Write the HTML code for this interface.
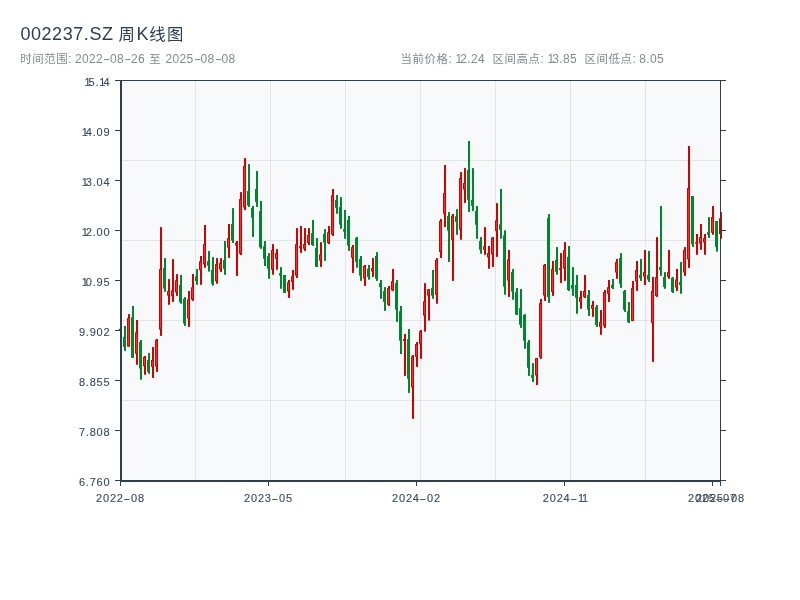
<!DOCTYPE html>
<html lang="zh-CN">
<head>
<meta charset="utf-8">
<title>002237.SZ 周K线图</title>
<style>
html,body{margin:0;padding:0;background:#fff;}
body{position:relative;width:800px;height:600px;overflow:hidden;font-family:"Liberation Sans","Noto Sans CJK SC",sans-serif;}
svg{display:block;position:absolute;left:0;top:0;}
div{position:absolute;white-space:pre;margin:0;padding:0;}
i{font-style:normal;margin:0 -2.2px 0 0.2px;}
b{font-weight:normal;display:inline-block;width:7px;text-align:center;transform:scaleX(1.8);letter-spacing:0;}
.tk{font-size:11px;line-height:16px;color:#3c4a5c;letter-spacing:0.8px;-webkit-text-stroke:0.12px #3c4a5c;}
.tk i{margin:0 -2.8px 0 0;}
.tk b{width:7.4px;position:relative;left:-1px;}
.yl{right:689.6px;text-align:right;}
.xl{width:80px;text-align:center;top:490.4px;}
.ttl{left:20.4px;top:22px;font-size:18px;line-height:24px;color:#2c3e50;}
.tl{letter-spacing:0.56px;}
.tc{font-size:16.4px;letter-spacing:1.6px;}
.tk2{letter-spacing:0.6px;}
.sub{font-size:12px;line-height:16px;color:#7f8c8d;top:51px;}
.sub .c{font-size:11.4px;letter-spacing:0.6px;}
.sub .n{letter-spacing:0.33px;}
.sub .z{margin:0 1.1px 0 0.8px;}
.s0{left:20.3px;}
.s1{left:400.6px;}
.s2{left:492.6px;}
.s3{left:584.6px;}
</style>
</head>
<body>
<svg width="800" height="600" viewBox="0 0 800 600">
<rect x="121" y="81" width="599" height="399" fill="#f8f9fb"/>
<g fill="#e1e4e9"><rect x="195" y="81" width="1" height="399"/><rect x="270" y="81" width="1" height="399"/><rect x="345" y="81" width="1" height="399"/><rect x="420" y="81" width="1" height="399"/><rect x="495" y="81" width="1" height="399"/><rect x="570" y="81" width="1" height="399"/><rect x="645" y="81" width="1" height="399"/><rect x="122" y="160" width="598" height="1"/><rect x="122" y="240" width="598" height="1"/><rect x="122" y="320" width="598" height="1"/><rect x="122" y="400" width="598" height="1"/></g>
<g><rect x="120" y="328.8" width="2" height="1.2" fill="#d40000"/><rect x="119" y="328.8" width="3" height="1.2" fill="#d40000"/><rect x="124" y="326" width="2" height="24.9" fill="#00872d"/><rect x="123" y="336.9" width="3" height="10" fill="#00872d"/><rect x="128" y="314.1" width="2" height="32.5" fill="#d40000"/><rect x="127" y="318.1" width="3" height="28.5" fill="#d40000"/><rect x="128" y="319.1" width="1" height="26.5" fill="#ff2a2a"/><rect x="132" y="306" width="2" height="51.75" fill="#00872d"/><rect x="131" y="317.25" width="3" height="40.5" fill="#00872d"/><rect x="136" y="320" width="2" height="44.75" fill="#d40000"/><rect x="135" y="332.25" width="3" height="21.5" fill="#d40000"/><rect x="136" y="333.25" width="1" height="19.5" fill="#ff2a2a"/><rect x="140" y="340" width="2" height="39.75" fill="#00872d"/><rect x="139" y="341.9" width="3" height="26.6" fill="#00872d"/><rect x="144" y="356" width="2" height="18.75" fill="#d40000"/><rect x="143" y="356.9" width="3" height="9.35" fill="#d40000"/><rect x="144" y="357.9" width="1" height="7.35" fill="#ff2a2a"/><rect x="148" y="352.9" width="2" height="20.85" fill="#00872d"/><rect x="147" y="360" width="3" height="11.9" fill="#00872d"/><rect x="152" y="347" width="2" height="30.9" fill="#d40000"/><rect x="151" y="360" width="3" height="6.9" fill="#d40000"/><rect x="152" y="361" width="1" height="4.9" fill="#ff2a2a"/><rect x="156" y="339" width="2" height="32.9" fill="#d40000"/><rect x="155" y="339.75" width="3" height="26.75" fill="#d40000"/><rect x="156" y="340.75" width="1" height="24.75" fill="#ff2a2a"/><rect x="160" y="227.1" width="2" height="108.8" fill="#d40000"/><rect x="159" y="269.1" width="3" height="60.5" fill="#d40000"/><rect x="160" y="270.1" width="1" height="58.5" fill="#ff2a2a"/><rect x="164" y="258.1" width="2" height="33.7" fill="#00872d"/><rect x="163" y="268.1" width="3" height="20.5" fill="#00872d"/><rect x="168" y="279.1" width="2" height="25.65" fill="#d40000"/><rect x="167" y="291.1" width="3" height="4.5" fill="#d40000"/><rect x="168" y="292.1" width="1" height="2.5" fill="#ff2a2a"/><rect x="172" y="259.1" width="2" height="42.8" fill="#d40000"/><rect x="171" y="290.3" width="3" height="5.95" fill="#d40000"/><rect x="172" y="291.3" width="1" height="3.95" fill="#ff2a2a"/><rect x="176" y="274.1" width="2" height="21.8" fill="#d40000"/><rect x="175" y="280.25" width="3" height="12.25" fill="#d40000"/><rect x="176" y="281.25" width="1" height="10.25" fill="#ff2a2a"/><rect x="180" y="275" width="2" height="28.75" fill="#00872d"/><rect x="179" y="285" width="3" height="16.9" fill="#00872d"/><rect x="184" y="297.1" width="2" height="28.8" fill="#00872d"/><rect x="183" y="298.75" width="3" height="24.75" fill="#00872d"/><rect x="188" y="291" width="2" height="35.9" fill="#d40000"/><rect x="187" y="299.4" width="3" height="19.1" fill="#d40000"/><rect x="188" y="300.4" width="1" height="17.1" fill="#ff2a2a"/><rect x="192" y="274" width="2" height="26.9" fill="#d40000"/><rect x="191" y="287.25" width="3" height="12.5" fill="#d40000"/><rect x="192" y="288.25" width="1" height="10.5" fill="#ff2a2a"/><rect x="196" y="269.1" width="2" height="15.65" fill="#00872d"/><rect x="195" y="276.25" width="3" height="4.75" fill="#00872d"/><rect x="200" y="256" width="2" height="28.75" fill="#d40000"/><rect x="199" y="261.25" width="3" height="9" fill="#d40000"/><rect x="200" y="262.25" width="1" height="7" fill="#ff2a2a"/><rect x="204" y="225" width="2" height="42.75" fill="#d40000"/><rect x="203" y="244.1" width="3" height="20.3" fill="#d40000"/><rect x="204" y="245.1" width="1" height="18.3" fill="#ff2a2a"/><rect x="208" y="251" width="2" height="20.6" fill="#00872d"/><rect x="207" y="261.25" width="3" height="4.35" fill="#00872d"/><rect x="212" y="257.1" width="2" height="28.5" fill="#00872d"/><rect x="211" y="270" width="3" height="13.75" fill="#00872d"/><rect x="216" y="258.1" width="2" height="25.65" fill="#d40000"/><rect x="215" y="264.1" width="3" height="17.15" fill="#d40000"/><rect x="216" y="265.1" width="1" height="15.15" fill="#ff2a2a"/><rect x="220" y="258.1" width="2" height="13.8" fill="#d40000"/><rect x="219" y="263.1" width="3" height="6.3" fill="#d40000"/><rect x="220" y="264.1" width="1" height="4.3" fill="#ff2a2a"/><rect x="224" y="241" width="2" height="33.75" fill="#00872d"/><rect x="223" y="260" width="3" height="8.75" fill="#00872d"/><rect x="228" y="224" width="2" height="33.9" fill="#d40000"/><rect x="227" y="238.1" width="3" height="9.4" fill="#d40000"/><rect x="228" y="239.1" width="1" height="7.4" fill="#ff2a2a"/><rect x="232" y="208.1" width="2" height="34.8" fill="#00872d"/><rect x="231" y="224" width="3" height="16.6" fill="#00872d"/><rect x="236" y="241" width="2" height="34.9" fill="#d40000"/><rect x="235" y="242.8" width="3" height="2.8" fill="#d40000"/><rect x="236" y="243.8" width="1" height="0.8" fill="#ff2a2a"/><rect x="240" y="192.1" width="2" height="62.9" fill="#d40000"/><rect x="239" y="199.1" width="3" height="54.65" fill="#d40000"/><rect x="240" y="200.1" width="1" height="52.65" fill="#ff2a2a"/><rect x="244" y="158.1" width="2" height="51.9" fill="#d40000"/><rect x="243" y="166" width="3" height="41.5" fill="#d40000"/><rect x="244" y="167" width="1" height="39.5" fill="#ff2a2a"/><rect x="248" y="164.1" width="2" height="42.8" fill="#00872d"/><rect x="247" y="191" width="3" height="14.6" fill="#00872d"/><rect x="252" y="206" width="2" height="30.9" fill="#00872d"/><rect x="251" y="208.1" width="3" height="9.65" fill="#00872d"/><rect x="256" y="171" width="2" height="35.9" fill="#00872d"/><rect x="255" y="189" width="3" height="12.9" fill="#00872d"/><rect x="260" y="201" width="2" height="47.75" fill="#00872d"/><rect x="259" y="211.25" width="3" height="36.25" fill="#00872d"/><rect x="264" y="241" width="2" height="25" fill="#00872d"/><rect x="263" y="246.25" width="3" height="12.5" fill="#00872d"/><rect x="268" y="253.1" width="2" height="25.65" fill="#00872d"/><rect x="267" y="256.25" width="3" height="12.5" fill="#00872d"/><rect x="272" y="244.1" width="2" height="30.65" fill="#d40000"/><rect x="271" y="250.1" width="3" height="19.65" fill="#d40000"/><rect x="272" y="251.1" width="1" height="17.65" fill="#ff2a2a"/><rect x="276" y="249.1" width="2" height="20.65" fill="#d40000"/><rect x="275" y="253.1" width="3" height="5.65" fill="#d40000"/><rect x="276" y="254.1" width="1" height="3.65" fill="#ff2a2a"/><rect x="280" y="267.1" width="2" height="21.65" fill="#00872d"/><rect x="279" y="273.1" width="3" height="2.5" fill="#00872d"/><rect x="284" y="275" width="2" height="17.9" fill="#00872d"/><rect x="283" y="275" width="3" height="17.9" fill="#00872d"/><rect x="288" y="280" width="2" height="17.9" fill="#d40000"/><rect x="287" y="282.25" width="3" height="9.25" fill="#d40000"/><rect x="288" y="283.25" width="1" height="7.25" fill="#ff2a2a"/><rect x="292" y="270" width="2" height="19.75" fill="#d40000"/><rect x="291" y="276.25" width="3" height="5.65" fill="#d40000"/><rect x="292" y="277.25" width="1" height="3.65" fill="#ff2a2a"/><rect x="296" y="228.1" width="2" height="49.8" fill="#d40000"/><rect x="295" y="244.2" width="3" height="31.4" fill="#d40000"/><rect x="296" y="245.2" width="1" height="29.4" fill="#ff2a2a"/><rect x="300" y="226" width="2" height="26.9" fill="#d40000"/><rect x="299" y="246.25" width="3" height="1.85" fill="#d40000"/><rect x="304" y="228.1" width="2" height="22.8" fill="#d40000"/><rect x="303" y="244.1" width="3" height="4.65" fill="#d40000"/><rect x="304" y="245.1" width="1" height="2.65" fill="#ff2a2a"/><rect x="308" y="228.1" width="2" height="16.9" fill="#d40000"/><rect x="307" y="235" width="3" height="8.1" fill="#d40000"/><rect x="308" y="236" width="1" height="6.1" fill="#ff2a2a"/><rect x="312" y="220" width="2" height="25.9" fill="#00872d"/><rect x="311" y="233.1" width="3" height="11.9" fill="#00872d"/><rect x="316" y="238.1" width="2" height="28.8" fill="#00872d"/><rect x="315" y="248.1" width="3" height="18.8" fill="#00872d"/><rect x="320" y="242.1" width="2" height="24.8" fill="#d40000"/><rect x="319" y="254.4" width="3" height="6.2" fill="#d40000"/><rect x="320" y="255.4" width="1" height="4.2" fill="#ff2a2a"/><rect x="324" y="229.1" width="2" height="31.8" fill="#00872d"/><rect x="323" y="234" width="3" height="8.5" fill="#00872d"/><rect x="328" y="226" width="2" height="18" fill="#d40000"/><rect x="327" y="232.25" width="3" height="10.65" fill="#d40000"/><rect x="328" y="233.25" width="1" height="8.65" fill="#ff2a2a"/><rect x="332" y="189" width="2" height="46.9" fill="#d40000"/><rect x="331" y="195.25" width="3" height="39.35" fill="#d40000"/><rect x="332" y="196.25" width="1" height="37.35" fill="#ff2a2a"/><rect x="336" y="195" width="2" height="18.75" fill="#00872d"/><rect x="335" y="200" width="3" height="7.75" fill="#00872d"/><rect x="340" y="197.1" width="2" height="31.65" fill="#00872d"/><rect x="339" y="207.1" width="3" height="17.5" fill="#00872d"/><rect x="344" y="210" width="2" height="28.75" fill="#00872d"/><rect x="343" y="229.1" width="3" height="2.5" fill="#00872d"/><rect x="348" y="216" width="2" height="34.9" fill="#00872d"/><rect x="347" y="220" width="3" height="25.6" fill="#00872d"/><rect x="352" y="245" width="2" height="27.9" fill="#d40000"/><rect x="351" y="247.1" width="3" height="10.65" fill="#d40000"/><rect x="352" y="248.1" width="1" height="8.65" fill="#ff2a2a"/><rect x="356" y="236.9" width="2" height="30.85" fill="#00872d"/><rect x="355" y="237.9" width="3" height="24" fill="#00872d"/><rect x="360" y="256" width="2" height="24.9" fill="#00872d"/><rect x="359" y="259" width="3" height="16.6" fill="#00872d"/><rect x="364" y="265" width="2" height="20.9" fill="#d40000"/><rect x="363" y="265.9" width="3" height="12.6" fill="#d40000"/><rect x="364" y="266.9" width="1" height="10.6" fill="#ff2a2a"/><rect x="368" y="265" width="2" height="14.75" fill="#00872d"/><rect x="367" y="268.75" width="3" height="8.15" fill="#00872d"/><rect x="372" y="258.1" width="2" height="18.8" fill="#d40000"/><rect x="371" y="268.1" width="3" height="3.4" fill="#d40000"/><rect x="372" y="269.1" width="1" height="1.4" fill="#ff2a2a"/><rect x="376" y="252.1" width="2" height="28.8" fill="#00872d"/><rect x="375" y="256" width="3" height="22.75" fill="#00872d"/><rect x="380" y="280" width="2" height="18.75" fill="#00872d"/><rect x="379" y="283.1" width="3" height="3.8" fill="#00872d"/><rect x="384" y="287.1" width="2" height="23.8" fill="#00872d"/><rect x="383" y="291" width="3" height="10.9" fill="#00872d"/><rect x="388" y="286" width="2" height="19.9" fill="#d40000"/><rect x="387" y="288.1" width="3" height="16.65" fill="#d40000"/><rect x="388" y="289.1" width="1" height="14.65" fill="#ff2a2a"/><rect x="392" y="269" width="2" height="21.9" fill="#d40000"/><rect x="391" y="281.25" width="3" height="9.15" fill="#d40000"/><rect x="392" y="282.25" width="1" height="7.15" fill="#ff2a2a"/><rect x="396" y="280" width="2" height="41.9" fill="#00872d"/><rect x="395" y="283.1" width="3" height="26.5" fill="#00872d"/><rect x="400" y="306" width="2" height="48" fill="#00872d"/><rect x="399" y="311.25" width="3" height="29.35" fill="#00872d"/><rect x="404" y="334" width="2" height="41.9" fill="#d40000"/><rect x="403" y="339.1" width="3" height="1.9" fill="#d40000"/><rect x="408" y="329" width="2" height="63.9" fill="#00872d"/><rect x="407" y="339.1" width="3" height="39.65" fill="#00872d"/><rect x="412" y="355" width="2" height="63.75" fill="#d40000"/><rect x="411" y="356.25" width="3" height="31.25" fill="#d40000"/><rect x="412" y="357.25" width="1" height="29.25" fill="#ff2a2a"/><rect x="416" y="342.1" width="2" height="24.8" fill="#d40000"/><rect x="415" y="344" width="3" height="12.9" fill="#d40000"/><rect x="416" y="345" width="1" height="10.9" fill="#ff2a2a"/><rect x="420" y="330" width="2" height="28.75" fill="#d40000"/><rect x="419" y="331.25" width="3" height="13.15" fill="#d40000"/><rect x="420" y="332.25" width="1" height="11.15" fill="#ff2a2a"/><rect x="424" y="283.1" width="2" height="48.5" fill="#d40000"/><rect x="423" y="301.25" width="3" height="14.35" fill="#d40000"/><rect x="424" y="302.25" width="1" height="12.35" fill="#ff2a2a"/><rect x="428" y="289" width="2" height="31.6" fill="#d40000"/><rect x="427" y="289.4" width="3" height="6.2" fill="#d40000"/><rect x="428" y="290.4" width="1" height="4.2" fill="#ff2a2a"/><rect x="432" y="270" width="2" height="28.75" fill="#00872d"/><rect x="431" y="288.1" width="3" height="7.5" fill="#00872d"/><rect x="436" y="258.1" width="2" height="45.65" fill="#d40000"/><rect x="435" y="260" width="3" height="34.75" fill="#d40000"/><rect x="436" y="261" width="1" height="32.75" fill="#ff2a2a"/><rect x="440" y="219" width="2" height="38.9" fill="#d40000"/><rect x="439" y="220.9" width="3" height="31" fill="#d40000"/><rect x="440" y="221.9" width="1" height="29" fill="#ff2a2a"/><rect x="444" y="165" width="2" height="61.9" fill="#d40000"/><rect x="443" y="193.1" width="3" height="20.65" fill="#d40000"/><rect x="444" y="194.1" width="1" height="18.65" fill="#ff2a2a"/><rect x="448" y="212.1" width="2" height="49.8" fill="#00872d"/><rect x="447" y="216" width="3" height="14.6" fill="#00872d"/><rect x="452" y="214" width="2" height="66.9" fill="#d40000"/><rect x="451" y="215.6" width="3" height="24.15" fill="#d40000"/><rect x="452" y="216.6" width="1" height="22.15" fill="#ff2a2a"/><rect x="456" y="209.1" width="2" height="25.65" fill="#00872d"/><rect x="455" y="216.25" width="3" height="5.65" fill="#00872d"/><rect x="460" y="172.1" width="2" height="67.65" fill="#d40000"/><rect x="459" y="178.1" width="3" height="51.65" fill="#d40000"/><rect x="460" y="179.1" width="1" height="49.65" fill="#ff2a2a"/><rect x="464" y="168.1" width="2" height="34.8" fill="#d40000"/><rect x="463" y="183.1" width="3" height="6.5" fill="#d40000"/><rect x="464" y="184.1" width="1" height="4.5" fill="#ff2a2a"/><rect x="468" y="141" width="2" height="70.9" fill="#00872d"/><rect x="467" y="170" width="3" height="29.75" fill="#00872d"/><rect x="472" y="168.1" width="2" height="42.8" fill="#00872d"/><rect x="471" y="200" width="3" height="5.9" fill="#00872d"/><rect x="476" y="206" width="2" height="32.75" fill="#00872d"/><rect x="475" y="211" width="3" height="13.75" fill="#00872d"/><rect x="480" y="237.1" width="2" height="16.65" fill="#00872d"/><rect x="479" y="241" width="3" height="8.75" fill="#00872d"/><rect x="484" y="227.1" width="2" height="27.65" fill="#d40000"/><rect x="483" y="246.25" width="3" height="3.5" fill="#d40000"/><rect x="484" y="247.25" width="1" height="1.5" fill="#ff2a2a"/><rect x="488" y="246" width="2" height="22.75" fill="#d40000"/><rect x="487" y="253.1" width="3" height="4.4" fill="#d40000"/><rect x="488" y="254.1" width="1" height="2.4" fill="#ff2a2a"/><rect x="492" y="237.1" width="2" height="29.8" fill="#d40000"/><rect x="491" y="237.5" width="3" height="16.9" fill="#d40000"/><rect x="492" y="238.5" width="1" height="14.9" fill="#ff2a2a"/><rect x="496" y="203.1" width="2" height="53.8" fill="#d40000"/><rect x="495" y="220.4" width="3" height="10.5" fill="#d40000"/><rect x="496" y="221.4" width="1" height="8.5" fill="#ff2a2a"/><rect x="500" y="189" width="2" height="49.75" fill="#00872d"/><rect x="499" y="224.4" width="3" height="5.35" fill="#00872d"/><rect x="504" y="230.25" width="2" height="64.5" fill="#00872d"/><rect x="503" y="235.25" width="3" height="51.35" fill="#00872d"/><rect x="508" y="250" width="2" height="46.9" fill="#d40000"/><rect x="507" y="259.4" width="3" height="21.2" fill="#d40000"/><rect x="508" y="260.4" width="1" height="19.2" fill="#ff2a2a"/><rect x="512" y="269" width="2" height="30.75" fill="#00872d"/><rect x="511" y="271.9" width="3" height="19.7" fill="#00872d"/><rect x="516" y="288.1" width="2" height="26.65" fill="#00872d"/><rect x="515" y="291.9" width="3" height="22.85" fill="#00872d"/><rect x="520" y="289" width="2" height="38.9" fill="#00872d"/><rect x="519" y="308.1" width="3" height="16.65" fill="#00872d"/><rect x="524" y="314.1" width="2" height="34.65" fill="#00872d"/><rect x="523" y="315" width="3" height="25.6" fill="#00872d"/><rect x="528" y="340" width="2" height="35.9" fill="#00872d"/><rect x="527" y="342.25" width="3" height="25.5" fill="#00872d"/><rect x="532" y="363.1" width="2" height="18.8" fill="#00872d"/><rect x="531" y="375" width="3" height="2.75" fill="#00872d"/><rect x="536" y="358.1" width="2" height="26.9" fill="#d40000"/><rect x="535" y="358.1" width="3" height="17.5" fill="#d40000"/><rect x="536" y="359.1" width="1" height="15.5" fill="#ff2a2a"/><rect x="540" y="299" width="2" height="59.75" fill="#d40000"/><rect x="539" y="303.1" width="3" height="54.4" fill="#d40000"/><rect x="540" y="304.1" width="1" height="52.4" fill="#ff2a2a"/><rect x="544" y="264" width="2" height="36.9" fill="#d40000"/><rect x="543" y="265" width="3" height="30.6" fill="#d40000"/><rect x="544" y="266" width="1" height="28.6" fill="#ff2a2a"/><rect x="548" y="214.1" width="2" height="88.8" fill="#00872d"/><rect x="547" y="218.1" width="3" height="78.8" fill="#00872d"/><rect x="552" y="261" width="2" height="34.9" fill="#d40000"/><rect x="551" y="269" width="3" height="22.9" fill="#d40000"/><rect x="552" y="270" width="1" height="20.9" fill="#ff2a2a"/><rect x="556" y="247.1" width="2" height="27.65" fill="#00872d"/><rect x="555" y="260" width="3" height="11.9" fill="#00872d"/><rect x="560" y="253.1" width="2" height="29.8" fill="#d40000"/><rect x="559" y="268.1" width="3" height="1.9" fill="#d40000"/><rect x="564" y="242.1" width="2" height="38.8" fill="#d40000"/><rect x="563" y="250.25" width="3" height="18.35" fill="#d40000"/><rect x="564" y="251.25" width="1" height="16.35" fill="#ff2a2a"/><rect x="568" y="246" width="2" height="44.9" fill="#00872d"/><rect x="567" y="256.9" width="3" height="33.1" fill="#00872d"/><rect x="572" y="267.1" width="2" height="28.8" fill="#00872d"/><rect x="571" y="285" width="3" height="3.75" fill="#00872d"/><rect x="576" y="275" width="2" height="38.75" fill="#00872d"/><rect x="575" y="285" width="3" height="12.75" fill="#00872d"/><rect x="580" y="291" width="2" height="17.75" fill="#d40000"/><rect x="579" y="297.1" width="3" height="4.8" fill="#d40000"/><rect x="580" y="298.1" width="1" height="2.8" fill="#ff2a2a"/><rect x="584" y="275" width="2" height="22.9" fill="#d40000"/><rect x="583" y="291" width="3" height="5.9" fill="#d40000"/><rect x="584" y="292" width="1" height="3.9" fill="#ff2a2a"/><rect x="588" y="290" width="2" height="25.9" fill="#00872d"/><rect x="587" y="295" width="3" height="14.75" fill="#00872d"/><rect x="592" y="301" width="2" height="15.9" fill="#d40000"/><rect x="591" y="305" width="3" height="3.75" fill="#d40000"/><rect x="592" y="306" width="1" height="1.75" fill="#ff2a2a"/><rect x="596" y="305" width="2" height="21.9" fill="#00872d"/><rect x="595" y="307.1" width="3" height="17.9" fill="#00872d"/><rect x="600" y="310" width="2" height="24.75" fill="#d40000"/><rect x="599" y="322.1" width="3" height="4.8" fill="#d40000"/><rect x="600" y="323.1" width="1" height="2.8" fill="#ff2a2a"/><rect x="604" y="290" width="2" height="37.9" fill="#d40000"/><rect x="603" y="291.9" width="3" height="34" fill="#d40000"/><rect x="604" y="292.9" width="1" height="32" fill="#ff2a2a"/><rect x="608" y="280" width="2" height="21.9" fill="#d40000"/><rect x="607" y="287.25" width="3" height="6.5" fill="#d40000"/><rect x="608" y="288.25" width="1" height="4.5" fill="#ff2a2a"/><rect x="612" y="279" width="2" height="10" fill="#00872d"/><rect x="611" y="285" width="3" height="2.9" fill="#00872d"/><rect x="616" y="259" width="2" height="19.75" fill="#d40000"/><rect x="615" y="262.1" width="3" height="10.4" fill="#d40000"/><rect x="616" y="263.1" width="1" height="8.4" fill="#ff2a2a"/><rect x="620" y="253.1" width="2" height="34.8" fill="#00872d"/><rect x="619" y="258.1" width="3" height="25.65" fill="#00872d"/><rect x="624" y="290" width="2" height="21.9" fill="#00872d"/><rect x="623" y="291" width="3" height="18.75" fill="#00872d"/><rect x="628" y="302.1" width="2" height="20.9" fill="#00872d"/><rect x="627" y="311.25" width="3" height="10.65" fill="#00872d"/><rect x="632" y="281" width="2" height="39.9" fill="#d40000"/><rect x="631" y="288.1" width="3" height="32.8" fill="#d40000"/><rect x="632" y="289.1" width="1" height="30.8" fill="#ff2a2a"/><rect x="636" y="261" width="2" height="29.9" fill="#d40000"/><rect x="635" y="270" width="3" height="11.5" fill="#d40000"/><rect x="636" y="271" width="1" height="9.5" fill="#ff2a2a"/><rect x="640" y="259" width="2" height="21.9" fill="#00872d"/><rect x="639" y="275" width="3" height="2.9" fill="#00872d"/><rect x="644" y="250" width="2" height="35" fill="#d40000"/><rect x="643" y="272.1" width="3" height="4.5" fill="#d40000"/><rect x="644" y="273.1" width="1" height="2.5" fill="#ff2a2a"/><rect x="648" y="251" width="2" height="30.9" fill="#00872d"/><rect x="647" y="275" width="3" height="4.6" fill="#00872d"/><rect x="652" y="276.9" width="2" height="85" fill="#d40000"/><rect x="651" y="291" width="3" height="31.9" fill="#d40000"/><rect x="652" y="292" width="1" height="29.9" fill="#ff2a2a"/><rect x="656" y="237.1" width="2" height="59.8" fill="#d40000"/><rect x="655" y="277.1" width="3" height="18.9" fill="#d40000"/><rect x="656" y="278.1" width="1" height="16.9" fill="#ff2a2a"/><rect x="660" y="206" width="2" height="69.9" fill="#00872d"/><rect x="659" y="267.1" width="3" height="2.9" fill="#00872d"/><rect x="664" y="272.1" width="2" height="16.65" fill="#00872d"/><rect x="663" y="276.9" width="3" height="10" fill="#00872d"/><rect x="668" y="250" width="2" height="28.75" fill="#d40000"/><rect x="667" y="272.1" width="3" height="4.8" fill="#d40000"/><rect x="668" y="273.1" width="1" height="2.8" fill="#ff2a2a"/><rect x="672" y="277.1" width="2" height="15.8" fill="#00872d"/><rect x="671" y="277.75" width="3" height="14.15" fill="#00872d"/><rect x="676" y="269" width="2" height="21.9" fill="#d40000"/><rect x="675" y="279.4" width="3" height="8.1" fill="#d40000"/><rect x="676" y="280.4" width="1" height="6.1" fill="#ff2a2a"/><rect x="680" y="262.1" width="2" height="31.65" fill="#00872d"/><rect x="679" y="282.1" width="3" height="2.9" fill="#00872d"/><rect x="684" y="247.1" width="2" height="28.8" fill="#d40000"/><rect x="683" y="250" width="3" height="22.5" fill="#d40000"/><rect x="684" y="251" width="1" height="20.5" fill="#ff2a2a"/><rect x="688" y="146" width="2" height="121.9" fill="#d40000"/><rect x="687" y="188.1" width="3" height="71.3" fill="#d40000"/><rect x="688" y="189.1" width="1" height="69.3" fill="#ff2a2a"/><rect x="692" y="196" width="2" height="50.9" fill="#00872d"/><rect x="691" y="196" width="3" height="48.4" fill="#00872d"/><rect x="696" y="234" width="2" height="20.75" fill="#d40000"/><rect x="695" y="242.25" width="3" height="1.5" fill="#d40000"/><rect x="700" y="224" width="2" height="25.75" fill="#d40000"/><rect x="699" y="237.1" width="3" height="6.4" fill="#d40000"/><rect x="700" y="238.1" width="1" height="4.4" fill="#ff2a2a"/><rect x="704" y="234" width="2" height="20.75" fill="#d40000"/><rect x="703" y="238.1" width="3" height="4.4" fill="#d40000"/><rect x="704" y="239.1" width="1" height="2.4" fill="#ff2a2a"/><rect x="708" y="217.1" width="2" height="20.8" fill="#00872d"/><rect x="707" y="232.1" width="3" height="2.65" fill="#00872d"/><rect x="712" y="206" width="2" height="28.75" fill="#d40000"/><rect x="711" y="217.1" width="3" height="15.65" fill="#d40000"/><rect x="712" y="218.1" width="1" height="13.65" fill="#ff2a2a"/><rect x="716" y="221" width="2" height="30.6" fill="#00872d"/><rect x="715" y="221" width="3" height="25.9" fill="#00872d"/><rect x="720" y="212.2" width="2" height="26.6" fill="#d40000"/><rect x="719" y="218.2" width="3" height="15.8" fill="#d40000"/><rect x="720" y="219.2" width="1" height="13.8" fill="#ff2a2a"/></g>
<g fill="#2c3e50"><rect x="120" y="80" width="2" height="402"/><rect x="120" y="480" width="601" height="2"/><rect x="120" y="80" width="601" height="1"/><rect x="720" y="80" width="1" height="402"/><rect x="115" y="80" width="5" height="1"/><rect x="721" y="80" width="5" height="1"/><rect x="115" y="130" width="5" height="1"/><rect x="721" y="130" width="5" height="1"/><rect x="115" y="180" width="5" height="1"/><rect x="721" y="180" width="5" height="1"/><rect x="115" y="230" width="5" height="1"/><rect x="721" y="230" width="5" height="1"/><rect x="115" y="280" width="5" height="1"/><rect x="721" y="280" width="5" height="1"/><rect x="115" y="330" width="5" height="1"/><rect x="721" y="330" width="5" height="1"/><rect x="115" y="380" width="5" height="1"/><rect x="721" y="380" width="5" height="1"/><rect x="115" y="430" width="5" height="1"/><rect x="721" y="430" width="5" height="1"/><rect x="115" y="480" width="5" height="1"/><rect x="721" y="480" width="5" height="1"/><rect x="120" y="482" width="1" height="4"/><rect x="268" y="482" width="1" height="4"/><rect x="416" y="482" width="1" height="4"/><rect x="564" y="482" width="1" height="4"/><rect x="712" y="482" width="1" height="4"/><rect x="720" y="482" width="1" height="4"/></g>
</svg>
<div class="tk yl" style="top:74.4px"><i>1</i>5.<i>1</i>4</div>
<div class="tk yl" style="top:124.4px"><i>1</i>4.09</div>
<div class="tk yl" style="top:174.4px"><i>1</i>3.04</div>
<div class="tk yl" style="top:224.4px"><i>1</i>2.00</div>
<div class="tk yl" style="top:274.4px"><i>1</i>0.95</div>
<div class="tk yl" style="top:324.4px">9.902</div>
<div class="tk yl" style="top:374.4px">8.855</div>
<div class="tk yl" style="top:424.4px">7.808</div>
<div class="tk yl" style="top:474.4px">6.760</div>
<div class="tk xl" style="left:80.5px">2022<b>-</b>08</div>
<div class="tk xl" style="left:228.5px">2023<b>-</b>05</div>
<div class="tk xl" style="left:376.5px">2024<b>-</b>02</div>
<div class="tk xl" style="left:524.5px">2024<b>-</b><i>1</i><i>1</i></div>
<div class="tk xl" style="left:672.5px">2025<b>-</b>07</div>
<div class="tk xl" style="left:680.5px">2025<b>-</b>08</div>
<div class="ttl"><span class="tl">002237.SZ</span> <span class="tc">周</span><span class="tk2">K</span><span class="tc">线图</span></div>
<div class="sub s0"><span class="c">时间范围</span>: <span class="n">2022<b>-</b>08<b>-</b>26</span> <span class="c z">至</span> <span class="n">2025<b>-</b>08<b>-</b>08</span></div>
<div class="sub s1"><span class="c">当前价格</span>: <span class="n"><i>1</i>2.24</span></div>
<div class="sub s2"><span class="c">区间高点</span>: <span class="n"><i>1</i>3.85</span></div>
<div class="sub s3"><span class="c">区间低点</span>: <span class="n">8.05</span></div>
</body>
</html>
